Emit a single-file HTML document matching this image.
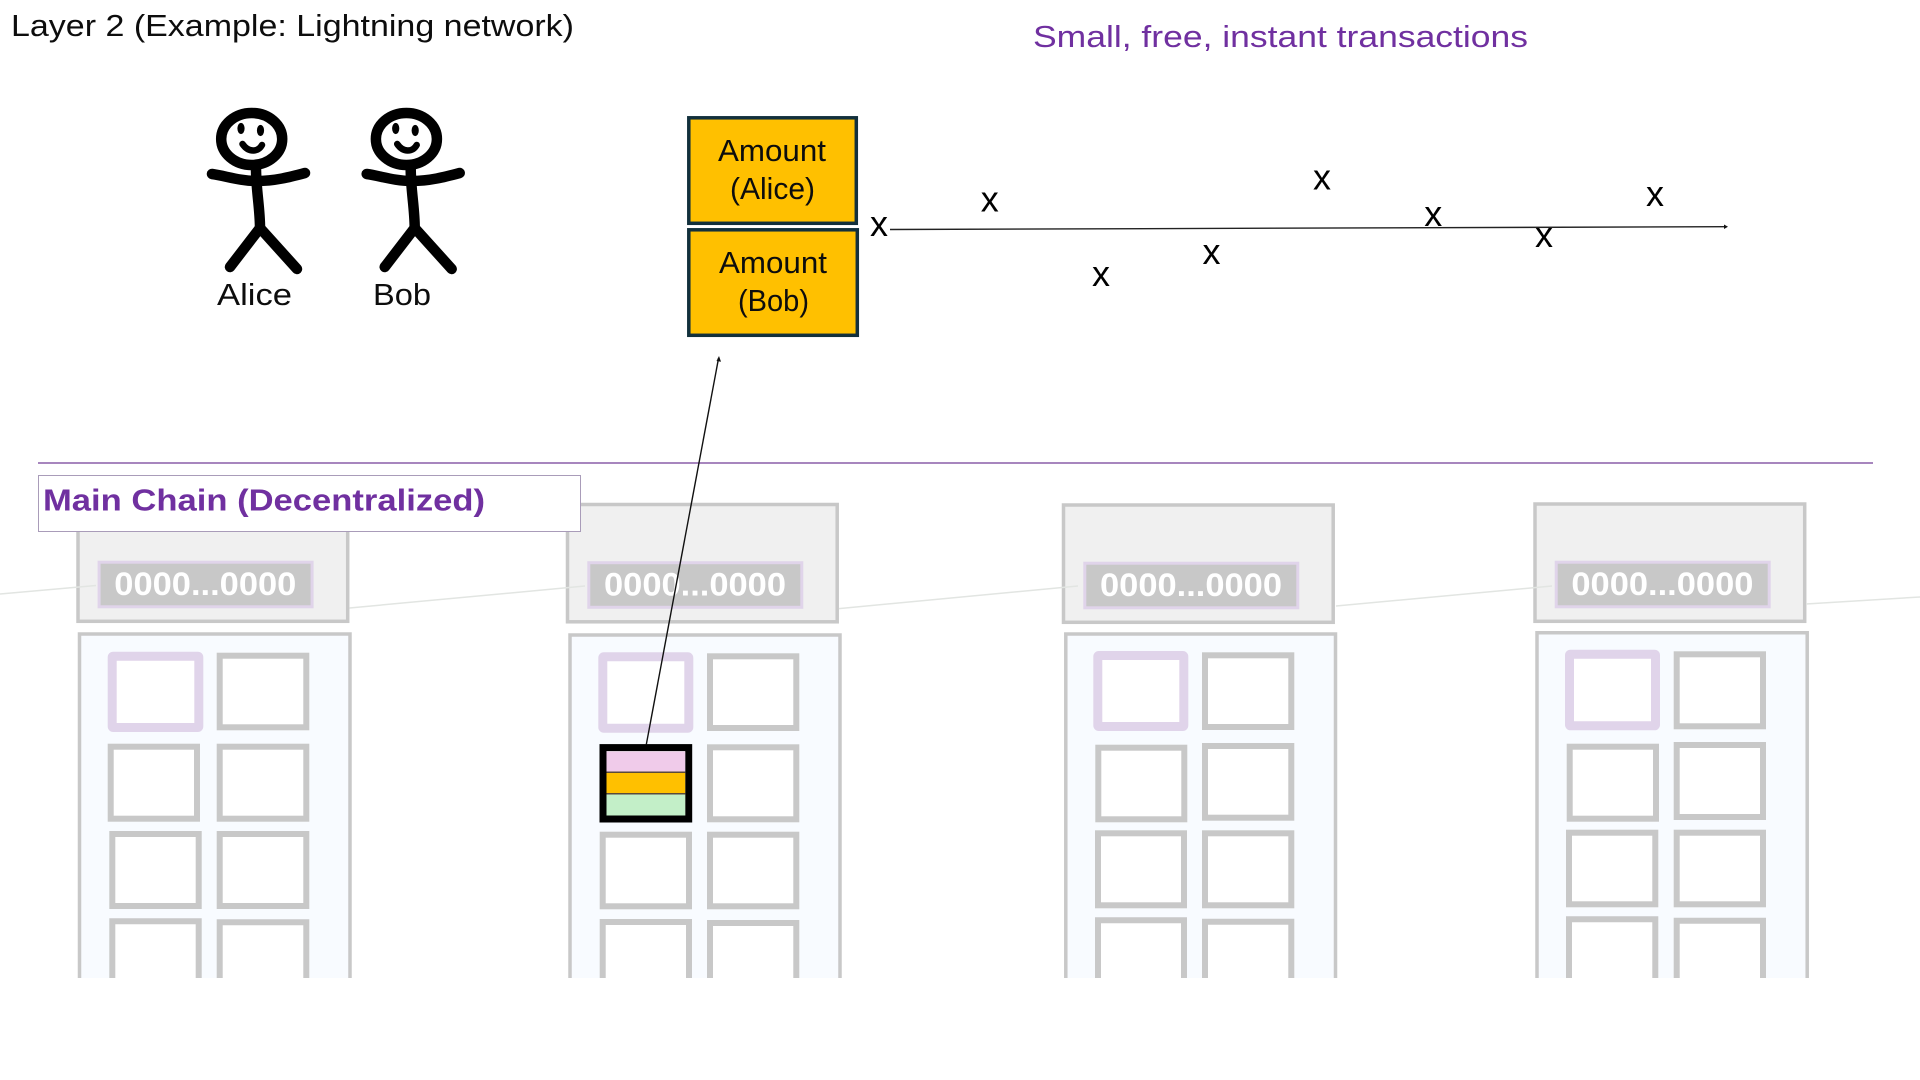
<!DOCTYPE html>
<html>
<head>
<meta charset="utf-8">
<style>
html,body{margin:0;padding:0;background:#fff;width:1920px;height:1080px;overflow:hidden}
svg{display:block}
text{font-family:"Liberation Sans",sans-serif}
.b{fill:#f8fbff;stroke:#c8c8c8;stroke-width:3.5}
.c{fill:#fff;stroke:#c8c8c8;stroke-width:6}
.p{fill:#fff;stroke:#e0d4ea;stroke-width:9}
.h{fill:#f0f0f0;stroke:#c8c8c8;stroke-width:3.5}
.i{fill:#c8c8c8;stroke:#e0d4ea;stroke-width:3}
.ht{fill:#fff;font-weight:bold;font-size:32px}
.lk{stroke:#e2e5e2;stroke-width:1.5;fill:none}
.x{font-size:36px;fill:#000;text-anchor:middle}
.t{font-size:31px;fill:#0d0d0d}
.s{fill:none;stroke:#000;stroke-width:10.5;stroke-linecap:round;stroke-linejoin:round}
.a{fill:#FFC000;stroke:#12303c;stroke-width:3.5}
</style>
</head>
<body>
<svg width="1920" height="1080" viewBox="0 0 1920 1080" xmlns="http://www.w3.org/2000/svg">
<defs>
<g id="fig">
<ellipse cx="251.7" cy="139" rx="30.5" ry="26" class="s"/>
<ellipse cx="241" cy="128.5" rx="3.6" ry="5.6"/>
<ellipse cx="260.5" cy="130.5" rx="3.6" ry="5.6"/>
<path d="M242.5,144 Q247,150.5 253,150.5 Q259,150.5 262,145" class="s" style="stroke-width:6.5"/>
<path d="M212,174 C226,176 240,181 257,181 C275,181 290,177 305,173" class="s"/>
<path d="M256,168 C256,190 260,208 260,228" class="s"/>
<path d="M230,267 L260,228 L297,269" class="s"/>
</g>
</defs>

<text x="11" y="36" class="t" textLength="563" lengthAdjust="spacingAndGlyphs">Layer 2 (Example: Lightning network)</text>
<text x="1033" y="47" class="t" style="fill:#7030A0" textLength="495" lengthAdjust="spacingAndGlyphs">Small, free, instant transactions</text>

<use href="#fig"/>
<use href="#fig" x="154.7"/>
<text x="217" y="305" class="t" textLength="75" lengthAdjust="spacingAndGlyphs">Alice</text>
<text x="373" y="305" class="t" textLength="58" lengthAdjust="spacingAndGlyphs">Bob</text>

<rect x="688.8" y="117.8" width="167.5" height="105.5" class="a"/>
<rect x="688.8" y="229.8" width="168.5" height="105.5" class="a"/>
<text x="718" y="161" class="t" textLength="108" lengthAdjust="spacingAndGlyphs">Amount</text>
<text x="730" y="199" class="t" textLength="85" lengthAdjust="spacingAndGlyphs">(Alice)</text>
<text x="719" y="273" class="t" textLength="108" lengthAdjust="spacingAndGlyphs">Amount</text>
<text x="738" y="311" class="t" textLength="71" lengthAdjust="spacingAndGlyphs">(Bob)</text>

<line x1="890" y1="229.5" x2="1725" y2="226.7" stroke="#222" stroke-width="1.4"/>
<path d="M1724,224.5 L1728,226.7 L1724,229 Z" fill="#111"/>
<text x="879" y="236" class="x">x</text>
<text x="989.8" y="211.5" class="x">x</text>
<text x="1101" y="286" class="x">x</text>
<text x="1211.5" y="264" class="x">x</text>
<text x="1322" y="189.5" class="x">x</text>
<text x="1433.2" y="226" class="x">x</text>
<text x="1544" y="247" class="x">x</text>
<text x="1655" y="206" class="x">x</text>

<line x1="38" y1="463" x2="1873" y2="463" stroke="#8a5fa8" stroke-width="1.6"/>

<!-- bodies -->
<path d="M79.5,978 V634 H350 V978" class="b"/>
<path d="M570,978 V635 H840 V978" class="b"/>
<path d="M1065.8,978 V634 H1335.5 V978" class="b"/>
<path d="M1537,978 V632.8 H1807.2 V978" class="b"/>

<!-- block 1 cells -->
<rect x="112.2" y="656.2" width="86.6" height="71.3" rx="1" class="p"/>
<rect x="219.7" y="655.7" width="86.6" height="71.6" class="c"/>
<rect x="110.7" y="746.7" width="86.3" height="72" class="c"/>
<rect x="219.7" y="746.7" width="86.6" height="72" class="c"/>
<rect x="112.3" y="834" width="86.4" height="72" class="c"/>
<rect x="219.7" y="834" width="86.6" height="72" class="c"/>
<path d="M112.3,978 V921.3 H198.7 V978" class="c"/>
<path d="M219.7,978 V922.3 H306.3 V978" class="c"/>

<!-- block 2 cells -->
<rect x="602.8" y="656.8" width="86" height="71.4" rx="1" class="p"/>
<rect x="710" y="656.3" width="86.3" height="71.7" class="c"/>
<rect x="710" y="747.3" width="86.3" height="72" class="c"/>
<rect x="602.7" y="834.7" width="86.3" height="71.6" class="c"/>
<rect x="710" y="834.7" width="86.3" height="71.6" class="c"/>
<path d="M602.7,978 V922 H689 V978" class="c"/>
<path d="M710,978 V923 H796.3 V978" class="c"/>
<rect x="603" y="747.6" width="85.7" height="71.4" fill="#fff" stroke="#000" stroke-width="7"/>
<rect x="606.5" y="751.5" width="78.7" height="20" fill="#f0cbea"/>
<rect x="606.5" y="771.5" width="78.7" height="1.5" fill="#5a4a3a"/>
<rect x="606.5" y="773" width="78.7" height="20" fill="#FFC000"/>
<rect x="606.5" y="793" width="78.7" height="1.5" fill="#5a4a3a"/>
<rect x="606.5" y="794.5" width="78.7" height="21" fill="#c3efc8"/>

<!-- block 3 cells -->
<rect x="1097.8" y="655.5" width="86" height="71" rx="1" class="p"/>
<rect x="1205" y="655.3" width="86.3" height="71.7" class="c"/>
<rect x="1098.3" y="747.7" width="86" height="71.6" class="c"/>
<rect x="1205" y="746" width="86.3" height="71.7" class="c"/>
<rect x="1098" y="833.3" width="86" height="72" class="c"/>
<rect x="1205" y="833.3" width="86.3" height="72" class="c"/>
<path d="M1098,978 V920.3 H1184 V978" class="c"/>
<path d="M1205,978 V921.7 H1291.3 V978" class="c"/>

<!-- block 4 cells -->
<rect x="1569.5" y="654.2" width="86" height="71.6" rx="1" class="p"/>
<rect x="1676.7" y="654.3" width="86.3" height="72" class="c"/>
<rect x="1569.7" y="746.7" width="86.3" height="72" class="c"/>
<rect x="1676.7" y="745" width="86.3" height="72" class="c"/>
<rect x="1569" y="832.7" width="86.3" height="71.6" class="c"/>
<rect x="1676.7" y="832.7" width="86.3" height="71.6" class="c"/>
<path d="M1569,978 V919.3 H1655.3 V978" class="c"/>
<path d="M1676.7,978 V920.7 H1763 V978" class="c"/>

<!-- headers -->
<rect x="78" y="504" width="269.7" height="117.3" class="h"/>
<rect x="99.1" y="562.2" width="213" height="44.6" class="i"/>
<text x="114.3" y="595" class="ht" textLength="182" lengthAdjust="spacingAndGlyphs">0000...0000</text>

<rect x="567.5" y="504.5" width="269.7" height="117.3" class="h"/>
<rect x="588.8" y="562.7" width="213" height="44.6" class="i"/>
<text x="604" y="595.5" class="ht" textLength="182" lengthAdjust="spacingAndGlyphs">0000...0000</text>

<rect x="1063.5" y="505" width="269.7" height="117.3" class="h"/>
<rect x="1084.8" y="563.2" width="213" height="44.6" class="i"/>
<text x="1100" y="596" class="ht" textLength="182" lengthAdjust="spacingAndGlyphs">0000...0000</text>

<rect x="1535" y="504" width="269.7" height="117.3" class="h"/>
<rect x="1556.2" y="562.2" width="213" height="44.6" class="i"/>
<text x="1571.4" y="595" class="ht" textLength="182" lengthAdjust="spacingAndGlyphs">0000...0000</text>

<!-- chain links -->
<line x1="0" y1="594" x2="96" y2="585.5" class="lk"/>
<line x1="349.5" y1="608" x2="585" y2="586" class="lk"/>
<line x1="839" y1="608.6" x2="1078" y2="586" class="lk"/>
<line x1="1336" y1="606" x2="1552" y2="586" class="lk"/>
<line x1="1806" y1="604" x2="1920" y2="597" class="lk"/>

<!-- main chain label -->
<rect x="38.5" y="475.5" width="542" height="56" fill="#fff" stroke="#a99cb9" stroke-width="1"/>
<text x="43" y="510.5" font-size="31" font-weight="bold" fill="#7030A0" textLength="442" lengthAdjust="spacingAndGlyphs">Main Chain (Decentralized)</text>

<!-- pointer arrow -->
<line x1="646.3" y1="744.5" x2="718.6" y2="358" stroke="#111" stroke-width="1.4"/>
<path d="M719,356 L716.5,361 L721,361.8 Z" fill="#111"/>
</svg>
</body>
</html>
